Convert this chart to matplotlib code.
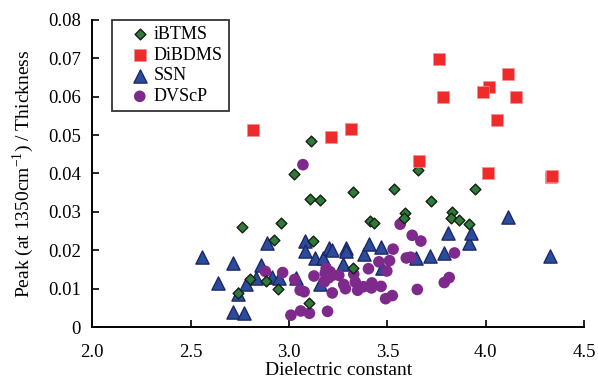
import matplotlib
matplotlib.use('Agg')
import matplotlib.pyplot as plt
import numpy as np

plt.rcParams['font.family'] = ['Liberation Serif', 'DejaVu Serif']
plt.rcParams['mathtext.fontset'] = 'custom'
plt.rcParams['mathtext.rm'] = 'Liberation Serif'

# iBTMS
ibtms_x = [2.763, 2.960, 3.024, 3.113, 3.105, 3.158, 3.325, 3.535, 3.656, 3.590,
           3.585, 3.411, 3.433, 3.724, 3.946, 3.829, 3.821, 3.866, 3.917, 2.922,
           3.124, 3.325, 3.104, 2.803, 2.884, 2.945, 2.742]
ibtms_y = [0.0261, 0.0272, 0.0398, 0.0484, 0.0333, 0.0331, 0.0351, 0.0359, 0.0408, 0.0297,
           0.0283, 0.0276, 0.0272, 0.0329, 0.0359, 0.0299, 0.0285, 0.0278, 0.0268, 0.0227,
           0.0224, 0.0154, 0.0063, 0.0126, 0.0120, 0.0100, 0.0088]

# DiBDMS
dibdms_x = [3.760, 3.784, 4.114, 4.016, 3.987, 4.151, 4.059, 3.316, 3.214, 2.818,
            3.660, 4.011, 4.331, 4.337]
dibdms_y = [0.0698, 0.0598, 0.0659, 0.0625, 0.0611, 0.0600, 0.0540, 0.0517, 0.0494, 0.0513,
            0.0433, 0.0402, 0.0390, 0.0393]

# SSN
ssn_x = [2.557, 2.639, 2.718, 2.742, 2.714, 2.774, 2.784, 2.834, 2.860, 2.889,
         2.914, 2.949, 3.038, 3.079, 3.082, 3.133, 3.172, 3.157, 3.205, 3.221,
         3.292, 3.291, 3.276, 3.379, 3.409, 3.468, 3.475, 3.646, 3.716, 3.789,
         3.806, 3.916, 3.924, 4.115, 4.324]
ssn_y = [0.0182, 0.0114, 0.0168, 0.0086, 0.0040, 0.0036, 0.0111, 0.0128, 0.0161, 0.0220,
         0.0131, 0.0127, 0.0129, 0.0224, 0.0198, 0.0181, 0.0180, 0.0113, 0.0206, 0.0202,
         0.0206, 0.0198, 0.0165, 0.0191, 0.0216, 0.0208, 0.0153, 0.0181, 0.0186, 0.0193,
         0.0246, 0.0218, 0.0246, 0.0286, 0.0186]

# DVScP
dvscp_x = [3.071, 2.880, 2.968, 3.029, 3.127, 3.057, 3.077, 3.010, 3.060, 3.104,
           3.196, 3.565, 3.626, 3.670, 3.529, 3.596, 3.618, 3.511, 3.457, 3.404,
           3.497, 3.189, 3.209, 3.184, 3.201, 3.253, 3.329, 3.180, 3.278, 3.337,
           3.287, 3.349, 3.378, 3.421, 3.419, 3.468, 3.220, 3.491, 3.525, 3.652,
           3.789, 3.814, 3.841, 3.221]
dvscp_y = [0.0423, 0.0145, 0.0142, 0.0124, 0.0133, 0.0096, 0.0092, 0.0031, 0.0042, 0.0036,
           0.0041, 0.0268, 0.0239, 0.0224, 0.0203, 0.0180, 0.0182, 0.0173, 0.0170, 0.0152,
           0.0146, 0.0153, 0.0144, 0.0140, 0.0128, 0.0135, 0.0138, 0.0118, 0.0111, 0.0117,
           0.0100, 0.0096, 0.0105, 0.0115, 0.0102, 0.0106, 0.0089, 0.0074, 0.0082, 0.0098,
           0.0116, 0.0129, 0.0193, 0.0135]

x_ticks = [2.0, 2.5, 3.0, 3.5, 4.0, 4.5]
y_ticks = [0, 0.01, 0.02, 0.03, 0.04, 0.05, 0.06, 0.07, 0.08]
y_labels = ['0', '0.01', '0.02', '0.03', '0.04', '0.05', '0.06', '0.07', '0.08']

fig = plt.figure(figsize=(5.98, 3.83), dpi=100)
ax = fig.add_axes([0.154, 0.146, 0.823, 0.802])

ax.scatter(ssn_x, ssn_y, marker='^', s=90, c='#2b4c9c', edgecolors='#1c2866',
           linewidths=1.0, label='SSN', zorder=3)
ax.scatter(dvscp_x, dvscp_y, marker='o', s=70, c='#7d2a8c', edgecolors='none',
           label='DVScP', zorder=4)
ax.scatter(ibtms_x, ibtms_y, marker='D', s=30, c='#2f7a3c', edgecolors='#142014',
           linewidths=1.0, label='iBTMS', zorder=5)
ax.scatter(dibdms_x, dibdms_y, marker='s', s=74, c='#ee2a2a', edgecolors='#f59090',
           linewidths=0.5, label='DiBDMS', zorder=6)

ax.set_xlim(2.0, 4.5)
ax.set_ylim(0, 0.08)
ax.set_xticks(x_ticks)
ax.set_xticklabels(['%.1f' % t for t in x_ticks])
ax.set_yticks(y_ticks)
ax.set_yticklabels(y_labels)
ax.tick_params(direction='in', length=5, width=1.2, labelsize=13.5)
ax.tick_params(axis='x', pad=12)
ax.tick_params(axis='y', pad=8)

for side in ['top', 'right']:
    ax.spines[side].set_visible(False)
for side in ['left', 'bottom']:
    ax.spines[side].set_linewidth(1.4)

ax.set_xlabel('Dielectric constant', fontsize=14, labelpad=1)
ax.set_ylabel('Peak (at 1350cm$^{-1}$) / Thickness', fontsize=14, labelpad=9)

handles, labels = ax.get_legend_handles_labels()
order = [labels.index(n) for n in ['iBTMS', 'DiBDMS', 'SSN', 'DVScP']]
leg = ax.legend([handles[i] for i in order], [labels[i] for i in order],
                loc='upper left', bbox_to_anchor=(0.04, 1.0), fontsize=13,
                frameon=True, fancybox=False, edgecolor='black',
                handletextpad=-0.45, borderpad=0.35, labelspacing=0.2,
                handlelength=2.4, borderaxespad=0)
leg.get_frame().set_linewidth(1.3)

fig.savefig('out.png', dpi=100)
